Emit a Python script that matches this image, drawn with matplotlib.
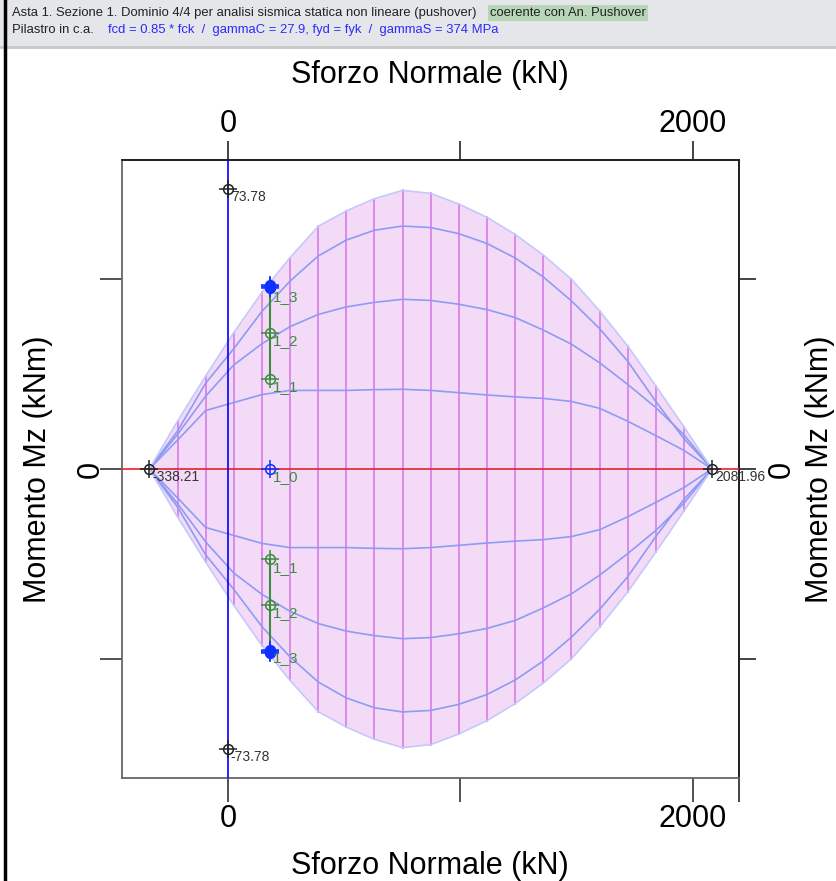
import numpy as np
import matplotlib
matplotlib.use("Agg")
import matplotlib.pyplot as plt
from matplotlib.patches import Rectangle
from matplotlib.lines import Line2D
from matplotlib.ticker import FixedLocator

# stazioni dello sforzo normale (kN) lungo il dominio
N_STAZ = [-338.21, -217.2, -96.2, 24.8, 145.8, 266.8, 387.8, 508.8, 629.8, 750.8,
          871.9, 992.9, 1113.9, 1234.9, 1355.9, 1476.9, 1597.9, 1718.9, 1839.9,
          1960.9, 2081.96]
# momento resistente (kNm), frontiera esterna e curve interne
M_BORDO = [0, 12.6, 24.5, 35.9, 46.5, 55.7, 63.9, 68.0, 71.2, 73.4, 72.6, 69.8,
           66.3, 61.8, 56.4, 50.0, 41.7, 32.4, 21.9, 11.1, 0]
M_CURVA_A = [0, 10.0, 22.6, 31.7, 41.5, 49.5, 56.1, 60.3, 62.9, 64.0, 63.6, 62.0,
             59.4, 55.6, 50.6, 44.3, 37.0, 28.4, 17.8, 8.0, 0]
M_CURVA_B = [0, 9.1, 19.2, 27.4, 33.0, 37.5, 40.7, 42.7, 43.9, 44.7, 44.4, 43.4,
             42.0, 39.9, 36.6, 32.9, 28.0, 22.3, 16.2, 9.0, 0]
M_CURVA_C = [0, 7.6, 15.4, 17.5, 19.6, 20.7, 20.7, 20.7, 20.9, 21.0, 20.7, 20.1,
             19.5, 19.0, 18.6, 17.8, 16.0, 12.6, 8.8, 4.9, 0]

N_MIN, N_MAX = -338.21, 2081.96
M_MAX = 73.78

# punti di verifica
N_VERIFICA = 180.6
M_1_0 = [0.0]
M_1_1 = [23.8]
M_1_2 = [35.8]
M_1_3 = [47.6, 47.9, 48.2, 48.5]

X_TICKS = [0, 1000, 2000]
X_TICKLABELS = ["0", "", "2000"]
Y_TICKS = [-50, 0, 50]
Y_TICKLABELS = ["", "0", ""]

W, H = 837, 881
fig = plt.figure(figsize=(W / 100, H / 100), dpi=100)

# intestazione grigia
fig.patches.append(Rectangle((0, 1 - 47 / H), 1, 47 / H, transform=fig.transFigure,
                             facecolor="#e4e6e9", edgecolor="none", zorder=0))
fig.lines.append(Line2D([0, 1], [1 - 47 / H] * 2, transform=fig.transFigure,
                        color="#c6c8ca", lw=2))
fig.lines.append(Line2D([4.5 / W] * 2, [0, 1], transform=fig.transFigure, color="black", lw=2.5))

hfont = ["Liberation Sans Narrow", "Liberation Sans", "DejaVu Sans"]
fig.text(12 / W, 1 - 13 / H, "Asta 1. Sezione 1. Dominio 4/4 per analisi sismica statica non lineare (pushover)",
         family=hfont, fontsize=9.4, color="#222222", va="center")
fig.text(490 / W, 1 - 13 / H, "coerente con An. Pushover", family=hfont, fontsize=9.4,
         color="#222222", va="center",
         bbox=dict(boxstyle="square,pad=0.15", facecolor="#b7d6b7", edgecolor="none"))
fig.text(12 / W, 1 - 30 / H, "Pilastro in c.a.", family=hfont, fontsize=9.4,
         color="#222222", va="center")
fig.text(108 / W, 1 - 30 / H, "fcd = 0.85 * fck  /  gammaC = 27.9, fyd = fyk  /  gammaS = 374 MPa",
         family=hfont, fontsize=9.4, color="#2b2bff", va="center")

ax = fig.add_axes([122 / W, 1 - 778 / H, (739 - 122) / W, (778 - 160) / H])

n = np.array(N_STAZ)
mb = np.array(M_BORDO)
ax.fill_between(n, -mb, mb, facecolor="#f3dbf8", edgecolor="none", zorder=1)
for i in range(1, len(n) - 1):
    ax.plot([n[i], n[i]], [-mb[i], mb[i]], color="#d984ea", lw=1.3, zorder=2)
for curva in [M_CURVA_A, M_CURVA_B, M_CURVA_C]:
    c = np.array(curva)
    ax.plot(n, c, color="#8e9bf4", lw=1.2, zorder=3)
    ax.plot(n, -c, color="#8e9bf4", lw=1.2, zorder=3)
ax.plot(n, mb, color="#c4c8fb", lw=1.2, zorder=3)
ax.plot(n, -mb, color="#c4c8fb", lw=1.2, zorder=3)

ax.axhline(0, color="#e8202a", lw=1.2, zorder=4)
ax.axvline(0, color="#0000ff", lw=1.2, zorder=4)


def mirino(x, y, colore, pieno=False):
    ax.plot(x, y, ls="none", marker="o", ms=7, mfc=colore if pieno else "none",
            mec=colore, mew=1.1, zorder=6)
    ax.plot(x, y, ls="none", marker="+", ms=13, mec=colore, mew=1.1, zorder=6)


def etichetta(x, y, testo, colore, size=10):
    ax.annotate(testo, (x, y), xytext=(2, -6), textcoords="offset points",
                fontsize=size, color=colore, ha="left", va="center",
                family="Liberation Sans", zorder=7)


# segmento verde tra i punti di verifica
verde = "#3d8b3d"
for s in (1, -1):
    ax.plot([N_VERIFICA] * 3, [s * M_1_1[0], s * M_1_2[0], s * M_1_3[0]], color=verde, lw=1.5, zorder=5)
    mirino([N_VERIFICA], [s * M_1_1[0]], verde)
    mirino([N_VERIFICA], [s * M_1_2[0]], verde)
    mirino([N_VERIFICA] * len(M_1_3), [s * m for m in M_1_3], "#1030ff", pieno=True)
    etichetta(N_VERIFICA, s * M_1_1[0], "1_1", verde, 11)
    etichetta(N_VERIFICA, s * M_1_2[0], "1_2", verde, 11)
    etichetta(N_VERIFICA, s * M_1_3[0], "1_3", verde, 11)
mirino([N_VERIFICA], M_1_0, "#1030ff")
etichetta(N_VERIFICA, M_1_0[0], "1_0", verde, 11)

grigio = "#333333"
for x, y, t in [(N_MIN, 0, f"{N_MIN:.2f}"), (N_MAX, 0, f"{N_MAX:.2f}"),
                (0, M_MAX, f"{M_MAX:.2f}"), (0, -M_MAX, f"{-M_MAX:.2f}")]:
    mirino([x], [y], "#222222")
    etichetta(x, y, t, grigio, 10)

x0, x1 = (122 - 228) / 0.2325, (739 - 228) / 0.2325
ax.set_xlim(x0, x1)
ax.set_ylim(-81.4, 81.4)

# assi in basso / a sinistra
ax.set_xticks(X_TICKS)
ax.set_xticklabels(X_TICKLABELS)
ax.set_yticks(Y_TICKS)
ax.set_yticklabels(Y_TICKLABELS, rotation=90, va="center")
ax.xaxis.set_minor_locator(FixedLocator([x1]))
ax.tick_params(axis="x", which="major", length=17, width=1.2, labelsize=22, pad=2, color="#333333")
ax.tick_params(axis="x", which="minor", length=17, width=1.2, color="#222222")
ax.tick_params(axis="y", which="major", length=16, width=1.2, labelsize=22, pad=-4.5, color="#333333")

# assi in alto / a destra
ax_top = ax.secondary_xaxis("top")
ax_top.set_xticks(X_TICKS)
ax_top.set_xticklabels(X_TICKLABELS)
ax_top.tick_params(length=14, width=1.2, labelsize=22, pad=1.2, color="#222222")
ax_right = ax.secondary_yaxis("right")
ax_right.set_yticks(Y_TICKS)
ax_right.set_yticklabels(Y_TICKLABELS, rotation=90, va="center")
ax_right.tick_params(length=12, width=1.2, labelsize=22, pad=8, color="#222222")

for a in (ax, ax_top, ax_right):
    for lab in a.get_xticklabels() + a.get_yticklabels():
        lab.set_family("Liberation Sans")
    for sp in a.spines.values():
        sp.set_linewidth(1.3)
        sp.set_color("#222222")
for side in ("left", "bottom"):
    ax.spines[side].set_color("#666666")

tfont = "Liberation Sans"
fig.text(430 / W, 1 - 75 / H, "Sforzo Normale (kN)", ha="center", va="center", fontsize=22, family=tfont)
fig.text(430 / W, 1 - 866 / H, "Sforzo Normale (kN)", ha="center", va="center", fontsize=22, family=tfont)
fig.text(38 / W, 1 - 469 / H, "Momento Mz (kNm)", ha="center", va="center", fontsize=22,
         rotation=90, family=tfont)
fig.text(820 / W, 1 - 469 / H, "Momento Mz (kNm)", ha="center", va="center", fontsize=22,
         rotation=90, family=tfont)

fig.savefig("out.png", dpi=100)
